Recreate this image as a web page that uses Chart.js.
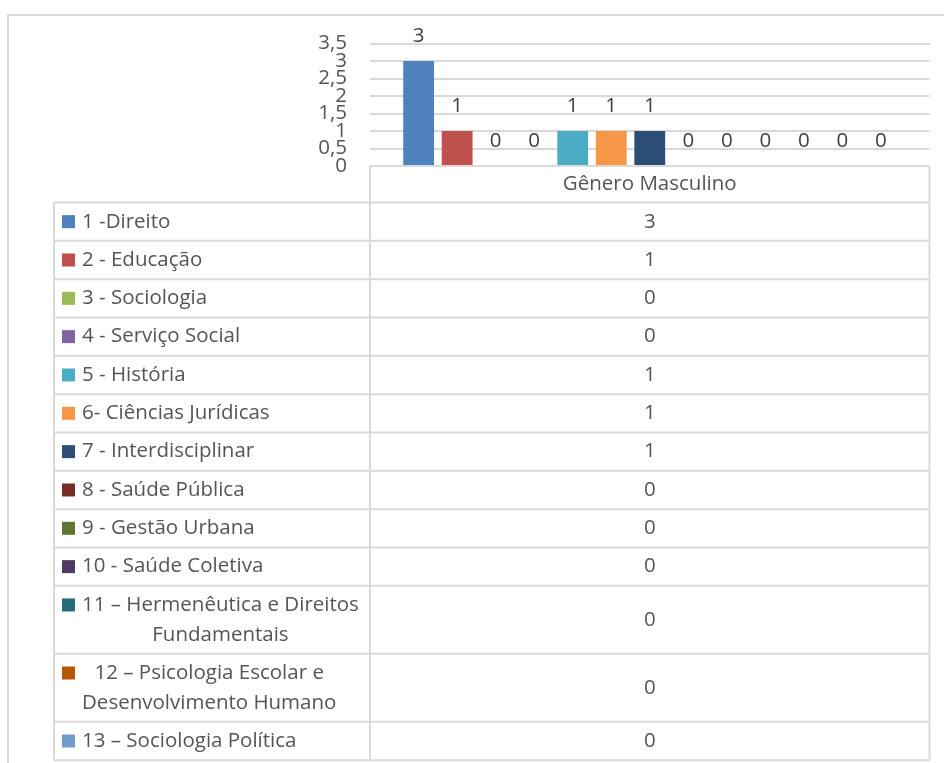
<!DOCTYPE html>
<html><head><meta charset="utf-8">
<script src="https://cdn.jsdelivr.net/npm/chart.js@4.4.0/dist/chart.umd.min.js"></script>
<style>html,body{margin:0;padding:0;background:#fff;} canvas{display:block;}</style>
</head><body>
<canvas id="c" width="944" height="763"></canvas>
<script>
// ---- data ----
const groupLabels = ["Gênero Masculino"];
const programs = [
  "1 -Direito",
  "2 - Educação",
  "3 - Sociologia",
  "4 - Serviço Social",
  "5 - História",
  "6- Ciências Jurídicas",
  "7 - Interdisciplinar",
  "8 - Saúde Pública",
  "9 - Gestão Urbana",
  "10 - Saúde Coletiva",
  "11 – Hermenêutica e Direitos\nFundamentais",
  "12 – Psicologia Escolar e\nDesenvolvimento Humano",
  "13 – Sociologia Política"
];
const counts = [3, 1, 0, 0, 1, 1, 1, 0, 0, 0, 0, 0, 0];
const colors = ["#4F81BD", "#C0504D", "#9BBB59", "#8064A2", "#4BACC6", "#F79646", "#2C4D75",
                "#772C2A", "#5F7530", "#4D3B62", "#276A7C", "#B65708", "#729ACA"];
const yMin = 0, yMax = 3.5, yStep = 0.5;

// ---- style ----
const FONT = '"Open Sans", sans-serif';
const FSIZE = 20.5;
const TXT = '#555555';
const LINE = '#d9d9d9';

const tablePlugin = {
  id: 'tablePlugin',
  afterDraw(chart) {
    const ctx = chart.ctx;
    const ca = chart.chartArea;
    const xs = chart.scales.x;
    const tableLeft = 54;
    const tableTop = xs.bottom;
    const rowH = 38.33, lineStep = 29.7;
    ctx.save();
    // outer frame
    ctx.strokeStyle = LINE; ctx.lineWidth = 2;
    ctx.strokeRect(8, 15, 960, 780);
    // category header cell
    ctx.beginPath();
    ctx.moveTo(ca.left, ca.bottom); ctx.lineTo(ca.right, ca.bottom);
    ctx.moveTo(tableLeft, tableTop); ctx.lineTo(ca.right, tableTop);
    ctx.stroke();
    ctx.font = FSIZE + 'px ' + FONT;
    ctx.fillStyle = TXT;
    ctx.textBaseline = 'middle';
    ctx.textAlign = 'center';
    const midX = (ca.left + ca.right) / 2;
    ctx.fillText(chart.data.labels[0], midX, (ca.bottom + tableTop) / 2);
    // rows
    let y = tableTop;
    const textX = 82;
    chart.data.datasets.forEach((ds, i) => {
      const lines = programs[i].split('\n');
      const h = rowH + (lines.length - 1) * lineStep;
      const cy = y + h / 2;
      const firstY = cy - (lines.length - 1) * lineStep / 2;
      // key
      ctx.fillStyle = ds.backgroundColor;
      ctx.fillRect(62, firstY - 6.5, 13, 13);
      ctx.fillStyle = TXT;
      if (lines.length === 1) {
        ctx.textAlign = 'left';
        ctx.fillText(lines[0], textX, cy);
      } else {
        const maxW = Math.max(...lines.map(l => ctx.measureText(l).width));
        ctx.textAlign = 'center';
        lines.forEach((l, k) => ctx.fillText(l, textX + maxW / 2, firstY + k * lineStep));
      }
      ctx.textAlign = 'center';
      ctx.fillText(String(ds.data[0]), midX, cy);
      y += h;
      ctx.beginPath();
      ctx.moveTo(tableLeft, y); ctx.lineTo(ca.right, y);
      ctx.stroke();
    });
    // verticals
    ctx.beginPath();
    ctx.moveTo(tableLeft, tableTop); ctx.lineTo(tableLeft, y);
    ctx.moveTo(ca.left, ca.bottom); ctx.lineTo(ca.left, y);
    ctx.moveTo(ca.right, ca.bottom); ctx.lineTo(ca.right, y);
    ctx.stroke();
    ctx.restore();
  },
  afterDatasetsDraw(chart) {
    const ctx = chart.ctx;
    ctx.save();
    ctx.font = FSIZE + 'px ' + FONT;
    ctx.fillStyle = '#404040';
    ctx.textAlign = 'center';
    ctx.textBaseline = 'middle';
    chart.data.datasets.forEach((ds, i) => {
      const meta = chart.getDatasetMeta(i);
      const bar = meta.data[0];
      ctx.fillText(String(ds.data[0]), bar.x, bar.y - 24.5);
    });
    ctx.restore();
  }
};

function build() {
  new Chart(document.getElementById('c'), {
    type: 'bar',
    data: {
      labels: groupLabels,
      datasets: programs.map((p, i) => ({
        label: p.replace('\n', ' '),
        data: [counts[i]],
        backgroundColor: colors[i],
        borderWidth: 0,
        categoryPercentage: 0.895,
        barPercentage: 0.80
      }))
    },
    options: {
      responsive: false,
      animation: false,
      events: [],
      layout: { padding: { left: 0, right: 14.5, top: 43.5, bottom: 560.5 } },
      plugins: { legend: { display: false }, tooltip: { enabled: false }, title: { display: false } },
      scales: {
        x: {
          grid: { display: false },
          border: { display: false },
          ticks: { display: false },
          afterFit(s) { s.height = 36.5; }
        },
        y: {
          min: yMin, max: yMax,
          ticks: {
            stepSize: yStep,
            autoSkip: false,
            padding: 23,
            color: TXT,
            font: { family: FONT, size: FSIZE },
            callback: v => String(v).replace('.', ',')
          },
          grid: { color: LINE, lineWidth: 2, drawTicks: false },
          border: { display: false },
          afterFit(s) { s.width = 370; }
        }
      }
    },
    plugins: [tablePlugin]
  });
}
if (document.fonts && document.fonts.load) {
  document.fonts.load(FSIZE + 'px "Open Sans"').then(build, build);
} else build();
</script>
</body></html>
